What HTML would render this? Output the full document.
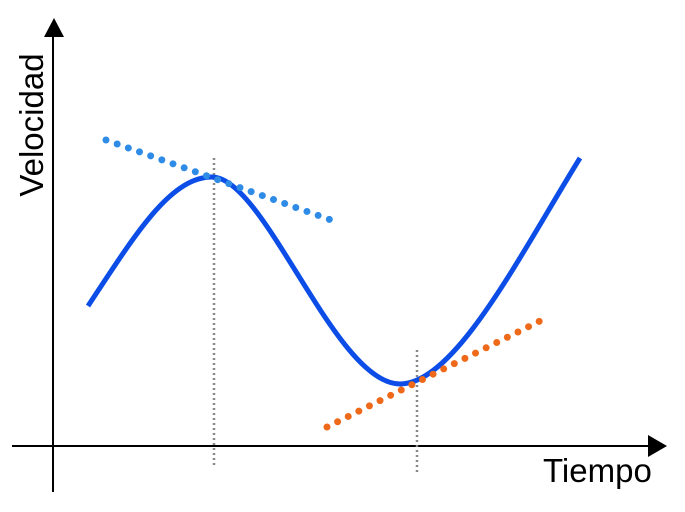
<!DOCTYPE html>
<html><head><meta charset="utf-8"><style>html,body{margin:0;padding:0;background:#fff}svg{display:block}</style></head>
<body>
<svg width="685" height="512" viewBox="0 0 685 512" xmlns="http://www.w3.org/2000/svg">
<line x1="53" y1="492" x2="53" y2="34" stroke="#000" stroke-width="2"/>
<polygon points="44,37 64,37 54,18" fill="#000"/>
<line x1="12" y1="446" x2="650" y2="446" stroke="#000" stroke-width="2"/>
<polygon points="648,435 648,457 667,446" fill="#000"/>
<line x1="214" y1="158" x2="214" y2="468" stroke="#888" stroke-width="2.5" stroke-dasharray="2,3"/>
<line x1="417" y1="350" x2="417" y2="472" stroke="#888" stroke-width="2.5" stroke-dasharray="2,3"/>
<path d="M88,306 C135,235 170,177 212,177 C265,177 335,384 400,384 C455,384 520,255 580,158" fill="none" stroke="#0b4de6" stroke-width="5"/>
<line x1="106" y1="140" x2="331" y2="220" stroke="#2e8be6" stroke-width="7" stroke-linecap="round" stroke-dasharray="0,11.85"/>
<line x1="327" y1="427" x2="540" y2="321" stroke="#ee6a1a" stroke-width="7" stroke-linecap="round" stroke-dasharray="0,11.85"/>
<text x="543" y="482" font-family="Liberation Sans, sans-serif" font-size="33" fill="#000">Tiempo</text>
<text transform="translate(43,125) rotate(-90)" text-anchor="middle" font-family="Liberation Sans, sans-serif" font-size="33" fill="#000">Velocidad</text>
</svg>
</body></html>
